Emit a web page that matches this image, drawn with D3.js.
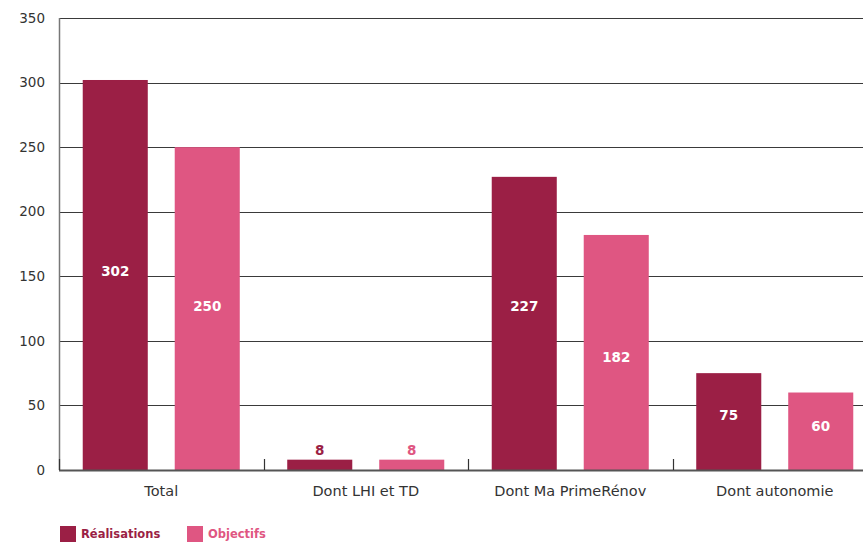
<!DOCTYPE html>
<html>
<head>
<meta charset="utf-8">
<script src="https://cdn.jsdelivr.net/npm/d3@7"></script>
<style>
html,body{margin:0;padding:0;background:#fff;}
svg{display:block;font-family:"DejaVu Sans",sans-serif;}
</style>
</head>
<body>
<svg id="chart" width="863" height="542"></svg>
<script>
const categories = ["Total", "Dont LHI et TD", "Dont Ma PrimeRénov", "Dont autonomie"];
const seriesNames = ["Réalisations", "Objectifs"];
const realisations = [302, 8, 227, 75];
const objectifs = [250, 8, 182, 60];
const yTicks = [0, 50, 100, 150, 200, 250, 300, 350];
const colors = ["#9b1f45", "#df5682"];
// value (in axis units) at which each inside label sits, as in the original
const labelAtReal = [154, null, 127, 42];
const labelAtObj = [127, null, 87.5, 34];

(function () {
const svg = d3.select("#chart");
const mLeft = 59, mTop = 18, mBottom = 470, bandW = 204.5;

const x = d3.scaleBand().domain(categories).range([mLeft, mLeft + bandW * categories.length]).padding(0);
const xs = d3.scaleBand().domain(seriesNames).range([0, bandW]).paddingInner(0.293).paddingOuter(0.258);
const y = d3.scaleLinear().domain([0, 350]).range([mBottom, mTop]);

// gridlines
svg.append("g").selectAll("line").data(yTicks.filter(d => d > 0)).join("line")
  .attr("x1", mLeft).attr("x2", 863)
  .attr("y1", d => Math.round(y(d)) + 0.5).attr("y2", d => Math.round(y(d)) + 0.5)
  .attr("stroke", "#3a3a3a").attr("stroke-width", 1);

// y tick labels
svg.append("g").selectAll("text").data(yTicks).join("text")
  .attr("x", 45).attr("y", d => y(d)).attr("dy", "0.35em")
  .attr("text-anchor", "end").attr("font-size", 13.5).attr("fill", "#333")
  .text(d => d);

const labelAt = [labelAtReal, labelAtObj];
const data = categories.map((c, i) => ({cat: c, i, vals: [realisations[i], objectifs[i]]}));
const items = d => d.vals.map((v, j) => ({s: seriesNames[j], v, j, at: labelAt[j][d.i]}));

const groups = svg.append("g").selectAll("g").data(data).join("g")
  .attr("transform", d => `translate(${x(d.cat)},0)`);

groups.selectAll("rect").data(items).join("rect")
  .attr("x", d => xs(d.s)).attr("width", xs.bandwidth())
  .attr("y", d => y(d.v)).attr("height", d => y(0) - y(d.v))
  .attr("fill", d => colors[d.j]);

groups.selectAll("text.val").data(items).join("text")
  .attr("class", "val")
  .attr("x", d => xs(d.s) + xs.bandwidth() / 2)
  .attr("y", d => d.at == null ? y(d.v) - 9 : y(d.at))
  .attr("dy", "0.35em")
  .attr("text-anchor", "middle").attr("font-size", 13.5).attr("font-weight", "bold")
  .attr("fill", d => d.at == null ? colors[d.j] : "#fff")
  .text(d => d.v);

// y axis line
svg.append("line").attr("x1", mLeft + 0.5).attr("x2", mLeft + 0.5).attr("y1", mTop).attr("y2", mBottom)
  .attr("stroke", "#777").attr("stroke-width", 1.5);

// baseline
svg.append("line").attr("x1", mLeft).attr("x2", 863).attr("y1", mBottom + 0.5).attr("y2", mBottom + 0.5)
  .attr("stroke", "#555").attr("stroke-width", 2);

// category separators
svg.append("g").selectAll("line").data(categories).join("line")
  .attr("x1", d => Math.round(x(d)) + 0.5).attr("x2", d => Math.round(x(d)) + 0.5)
  .attr("y1", mBottom - 11).attr("y2", mBottom)
  .attr("stroke", "#333").attr("stroke-width", 1.2);

// category labels
svg.append("g").selectAll("text").data(categories).join("text")
  .attr("x", d => x(d) + bandW / 2).attr("y", 491).attr("dy", "0.35em")
  .attr("text-anchor", "middle").attr("font-size", 14.5).attr("fill", "#333")
  .text(d => d);

// legend
const legX = [60, 187];
const leg = svg.append("g").selectAll("g").data(seriesNames).join("g")
  .attr("transform", (d, i) => `translate(${legX[i]},526)`);
leg.append("rect").attr("width", 16).attr("height", 16).attr("fill", (d, i) => colors[i]);
leg.append("text").attr("x", 21).attr("y", 8).attr("dy", "0.35em")
  .attr("font-size", 11.5).attr("font-weight", "bold").attr("fill", (d, i) => colors[i])
  .text(d => d);
})();
</script>
</body>
</html>
